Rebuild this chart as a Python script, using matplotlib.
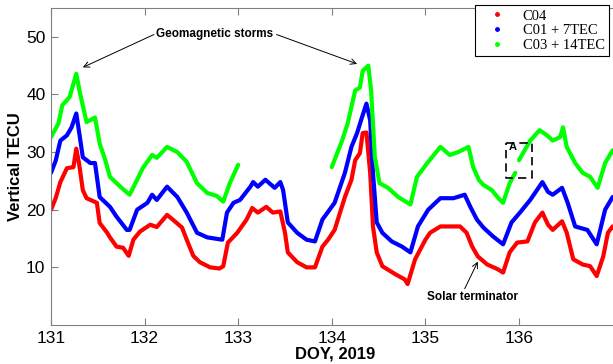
import matplotlib.pyplot as plt
from matplotlib.lines import Line2D

# C04
doy_c04 = [131.0, 131.05, 131.1, 131.17, 131.24, 131.27, 131.3, 131.34, 131.38, 131.49, 131.52, 131.6,
           131.63, 131.7, 131.77, 131.83, 131.88, 131.95, 132.06, 132.13, 132.24, 132.3, 132.4,
           132.45, 132.52, 132.59, 132.7, 132.8, 132.84, 132.89, 132.99, 133.09, 133.15, 133.21,
           133.3, 133.37, 133.45, 133.5, 133.53, 133.63, 133.73, 133.82, 133.9, 133.96, 134.03,
           134.14, 134.21, 134.25, 134.3, 134.33, 134.37, 134.41, 134.44, 134.48, 134.54, 134.68,
           134.78, 134.81, 134.89, 135.0, 135.05, 135.16, 135.37, 135.44, 135.5, 135.56, 135.66,
           135.77, 135.83, 135.9, 135.98, 136.09, 136.17, 136.25, 136.31, 136.36, 136.46, 136.51,
           136.58, 136.68, 136.76, 136.83, 136.9, 136.95, 137.0]
tec_c04 = [20.0, 22.0, 24.8, 27.2, 27.4, 30.6, 28.0, 23.4, 22.0, 21.2, 17.7, 16.0,
           15.2, 13.6, 13.4, 12.0, 14.8, 16.2, 17.4, 17.0, 19.1, 18.3, 16.9,
           14.8, 12.0, 10.9, 10.0, 9.8, 10.2, 14.3, 16.0, 18.3, 20.3, 19.5,
           20.5, 19.5, 19.7, 16.0, 12.6, 10.9, 10.0, 10.0, 13.6, 14.8, 16.5,
           22.2, 25.2, 28.6, 29.8, 33.3, 33.4, 26.4, 17.1, 12.6, 10.2, 8.8,
           7.9, 7.1, 11.4, 14.8, 16.0, 17.1, 17.1, 16.0, 13.6, 11.9, 10.5,
           9.7, 9.1, 12.6, 14.3, 14.5, 17.8, 19.5, 17.4, 16.5, 18.0, 16.0,
           11.4, 10.5, 10.2, 8.5, 11.9, 16.0, 17.1]

# C01 + 7TEC
doy_c01 = [131.0, 131.05, 131.1, 131.17, 131.22, 131.27, 131.3, 131.34, 131.42, 131.47, 131.52, 131.63,
           131.7, 131.81, 131.84, 131.92, 132.03, 132.08, 132.13, 132.24, 132.35, 132.45, 132.56,
           132.67, 132.83, 132.88, 132.95, 133.02, 133.13, 133.16, 133.21, 133.29, 133.39, 133.45,
           133.48, 133.53, 133.63, 133.73, 133.82, 133.9, 134.03, 134.14, 134.21, 134.27, 134.32,
           134.37, 134.41, 134.44, 134.48, 134.54, 134.64, 134.75, 134.84, 134.92, 135.03, 135.16,
           135.3, 135.42, 135.48, 135.55, 135.62, 135.72, 135.83, 135.92, 136.01, 136.12, 136.25,
           136.31, 136.36, 136.46, 136.52, 136.6, 136.73, 136.83, 136.92, 137.0]
tec_c01 = [26.4, 28.5, 32.0, 32.9, 34.3, 36.7, 33.5, 29.1, 28.1, 28.1, 22.2, 20.5,
           18.8, 16.5, 16.5, 20.0, 21.2, 22.6, 21.7, 24.0, 22.2, 19.5, 16.0,
           15.2, 14.8, 19.5, 21.2, 21.7, 24.0, 24.8, 24.0, 25.2, 23.8, 24.8,
           23.4, 17.8, 16.0, 14.8, 14.5, 18.3, 21.2, 26.4, 30.9, 33.3, 35.9,
           38.4, 35.5, 26.4, 17.8, 16.0, 14.5, 13.6, 12.6, 17.1, 20.0, 22.0,
           22.0, 22.6, 20.5, 18.3, 16.9, 15.4, 14.0, 17.8, 19.5, 21.7, 24.8,
           23.1, 22.6, 23.8, 21.2, 17.1, 16.5, 14.0, 20.0, 22.2]

# C03 + 14TEC (None = data gap)
doy_c03 = [131.0, 131.08, 131.12, 131.17, 131.2, 131.27, 131.31, 131.38, 131.47, 131.52, 131.58,
           131.63, 131.74, 131.84, 131.92, 131.98, 132.08, 132.13, 132.24, 132.35, 132.45, 132.56,
           132.67, 132.77, 132.84, 132.91, 133.0, 133.5, 134.0, 134.11, 134.17, 134.25, 134.3,
           134.33, 134.39, 134.42, 134.46, 134.51, 134.6, 134.71, 134.84, 134.91, 135.02, 135.16,
           135.26, 135.35, 135.46, 135.51, 135.57, 135.62, 135.71, 135.78, 135.83, 135.9, 135.96,
           135.98, 136.0, 136.12, 136.22, 136.3, 136.36, 136.44, 136.47, 136.51, 136.6, 136.68,
           136.76, 136.84, 136.92, 137.0]
tec_c03 = [32.6, 35.0, 38.1, 39.0, 39.6, 43.6, 40.2, 35.2, 36.0, 31.5, 28.6,
           25.7, 24.0, 22.6, 25.2, 27.2, 29.5, 29.0, 30.9, 30.0, 28.3, 24.6,
           22.9, 22.4, 21.4, 24.6, 27.8, None, 27.4, 32.0, 35.0, 40.7, 41.2,
           44.1, 45.0, 40.7, 29.1, 24.6, 23.8, 22.2, 20.9, 25.7, 28.1, 30.9,
           29.5, 30.0, 30.9, 27.4, 25.2, 24.3, 23.4, 22.0, 21.2, 24.6, 26.4,
           None, 28.6, 32.0, 33.8, 32.9, 32.0, 32.6, 34.3, 30.9, 28.1, 26.4,
           25.7, 23.8, 28.1, 30.3]

plt.rcParams['font.family'] = ['Liberation Sans', 'DejaVu Sans']

fig = plt.figure(figsize=(6.13, 3.64), dpi=100)
ax = fig.add_axes([51 / 613, 39 / 364, 569 / 613, 317 / 364])

lw = 3.0
for x, y, c in [(doy_c04, tec_c04, '#ff0000'), (doy_c01, tec_c01, '#0000ff'),
                (doy_c03, tec_c03, '#00ff00')]:
    ax.plot(x, y, color=c, lw=lw, solid_joinstyle='round', solid_capstyle='round')

ax.set_xlim(131, 131 + 569 / 93.6)
ax.set_ylim(0, 55)
ax.set_xticks([131, 132, 133, 134, 135, 136])
ax.set_yticks([10, 20, 30, 40, 50])
ax.tick_params(direction='in', top=True, right=True, labelsize=12.5, length=5,
               color='#808080', pad=4)
for s in ax.spines.values():
    s.set_color('#808080')
ax.set_xlabel('DOY, 2019', fontsize=12, fontweight='bold', labelpad=1)
ax.set_ylabel('Vertical TECU', fontsize=12, fontweight='bold', labelpad=2)

# annotations
ax.text(132.75, 50.5, 'Geomagnetic storms', ha='center', va='center', fontsize=8.5,
        fontweight='bold')
arrow = dict(arrowstyle='->', color='black', lw=0.7, shrinkA=0, shrinkB=0)
ax.annotate('', xy=(131.34, 44.7), xytext=(132.1, 50.4), arrowprops=arrow)
ax.annotate('', xy=(134.27, 45.3), xytext=(133.41, 50.4), arrowprops=arrow)
ax.text(135.5, 4.8, 'Solar terminator', ha='center', va='center', fontsize=8.5,
        fontweight='bold')
ax.annotate('', xy=(135.56, 11.0), xytext=(135.42, 6.3), arrowprops=arrow)

# dashed box A
ax.plot([135.86, 136.14, 136.14, 135.86, 135.86], [31.6, 31.6, 25.5, 25.5, 31.6],
        color='black', lw=1.2, ls=(0, (5, 3)))
ax.text(135.89, 30.9, 'A', ha='left', va='center', fontsize=8, fontweight='bold')

handles = [Line2D([], [], ls='none', marker='.', ms=5, color=c)
           for c in ['#ff0000', '#0000ff', '#00ff00']]
leg = ax.legend(handles, ['C04', 'C01 + 7TEC', 'C03 + 14TEC'], loc='upper right',
                bbox_to_anchor=(609 / 613, 1 - 5 / 364), bbox_transform=fig.transFigure,
                prop={'family': 'Liberation Serif', 'size': 10.5}, fancybox=False,
                framealpha=1, edgecolor='black', borderpad=0.3, labelspacing=0.1,
                handletextpad=0.5, handlelength=2.5, borderaxespad=0)
leg.get_frame().set_linewidth(0.8)

fig.savefig('out.png', dpi=100)
